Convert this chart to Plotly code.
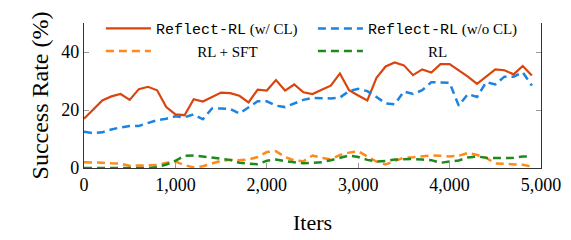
import plotly.graph_objects as go

iters = list(range(0, 5000, 100))

reflect_cl = [17, 20.2, 23.3, 24.7, 25.5, 23.5, 27.2, 28, 26.8, 21,
              18.5, 18.2, 23.7, 22.9, 24.4, 26, 25.8, 24.9, 22.6, 27,
              26.7, 30.3, 26.7, 28.8, 26.1, 25.5, 27, 28.4, 32.6, 26.8,
              25, 23.3, 31.1, 35, 36.4, 35.4, 32, 34, 32.9, 35.8,
              35.8, 33.8, 31.5, 29, 31.5, 34, 33.7, 32.3, 35.2, 31.9]

reflect_nocl = [12.5, 12, 12.3, 13.3, 14, 14.5, 14.5, 15.5, 16.5, 17,
                17.8, 17.5, 18.5, 16.8, 20.5, 20.5, 20.3, 18.8, 21, 23,
                23, 21.5, 21, 22.3, 23.5, 24.2, 24, 24, 24.3, 26.5,
                27.3, 26.5, 24.5, 22.3, 22, 26.4, 25.5, 26.8, 29.6, 29.5,
                29.4, 21.5, 25.5, 24.5, 29.6, 28.8, 31.5, 31.5, 33, 28.4]

rl_sft = [2, 2, 1.8, 1.6, 1.5, 0.8, 0.8, 0.8, 1.0, 1.8,
          2.2, 1.0, 0.2, 0.6, 1.5, 2.5, 2.8, 2.7, 2.9, 3.8,
          5.5, 5.8, 3.8, 2.6, 2.3, 4.3, 3.5, 3.0, 4.5, 5.3,
          5.8, 4, 2.2, 1.2, 2.5, 3.6, 3.7, 3.9, 4.3, 4.2,
          4, 4.2, 5.2, 4.5, 3.5, 1.6, 1.5, 1.4, 1.1, 0.5]

rl = [0, 0, 0, 0, 0, 0, 0, 0, 0.3, 1.2,
      2.5, 4.2, 4.3, 4, 3.6, 3.2, 2.8, 1.8, 1.5, 1.3,
      2.5, 2.9, 2.4, 2, 1.6, 1.8, 2, 2.7, 3.5, 4.3,
      3.8, 2.8, 2.2, 2.4, 2.9, 3, 3.1, 2.9, 2.7, 1.8,
      2.2, 2.6, 3.6, 4, 3.5, 3.4, 3.4, 3.5, 4, 4]

x_ticks = [0, 1000, 2000, 3000, 4000, 5000]
x_ticklabels = ["0", "1,000", "2,000", "3,000", "4,000", "5,000"]
y_ticks = [0, 20, 40]

MONO = "Liberation Mono"
SERIF = "Liberation Serif"

names = [
    f'<span style="font-family:{MONO}">Reflect-RL</span> (w/ CL)',
    f'<span style="font-family:{MONO}">Reflect-RL</span> (w/o CL)',
    "&nbsp;" * 11 + "RL + SFT",
    "&nbsp;" * 16 + "RL",
]
series = [reflect_cl, reflect_nocl, rl_sft, rl]
colors = ["#d9440f", "#1a84e0", "#ff8a1a", "#1e8a1e"]
dashes = ["solid", "8px,5px", "8px,5px", "8px,5px"]
widths = [2.2, 2.5, 2.5, 2.5]

fig = go.Figure()
for nm, ys, c, d, w in zip(names, series, colors, dashes, widths):
    fig.add_trace(go.Scatter(x=iters, y=ys, mode="lines", name=nm,
                             line=dict(color=c, dash=d, width=w)))

# page body has an 8px margin: figure is 8px smaller and margins compensate
fig.update_layout(
    width=563, height=232,
    margin=dict(l=76, r=30, t=15, b=72, autoexpand=False),
    paper_bgcolor="white", plot_bgcolor="white",
    font=dict(family=SERIF, color="black", size=17),
    showlegend=True,
    legend=dict(orientation="h", x=0.037, xanchor="left", y=1.075, yanchor="top",
                entrywidth=152, entrywidthmode="pixels", itemwidth=45,
                font=dict(size=15, family=SERIF), bgcolor="rgba(255,255,255,0)",
                traceorder="normal"),
)
fig.update_xaxes(range=[0, 5000], tickvals=x_ticks, ticktext=x_ticklabels,
                 showgrid=False, zeroline=False, showline=True, linecolor="#333",
                 linewidth=1.2, ticks="inside", ticklen=5, tickcolor="#999",
                 automargin=False,
                 title=dict(text="Iters", font=dict(size=22), standoff=20),
                 tickfont=dict(size=18))
fig.update_yaxes(range=[0, 50], tickvals=y_ticks, showgrid=False, zeroline=False,
                 showline=True, linecolor="#333", linewidth=1.2, mirror="ticks",
                 ticks="inside", ticklen=5, tickcolor="#999",
                 automargin=False,
                 title=dict(text="Success Rate (%)", font=dict(size=24), standoff=5),
                 tickfont=dict(size=18))

fig.write_html("out.html")
